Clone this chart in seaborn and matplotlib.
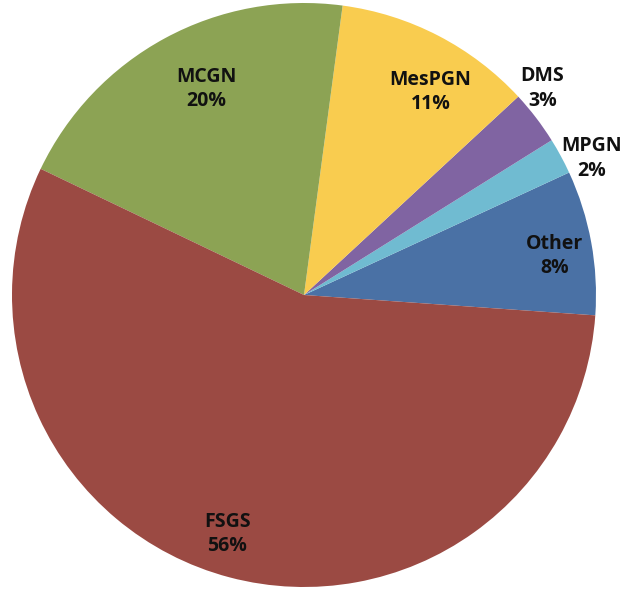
import matplotlib.pyplot as plt
import numpy as np
import seaborn as sns

####################################
# data
####################################
categories = ["Other", "MPGN", "DMS", "MesPGN", "MCGN", "FSGS"]
shares = [8, 2, 3, 11, 20, 56]

# label placement (distance from centre, angle nudge in degrees)
label_dist = [0.87, 1.09, 1.08, 0.82, 0.78, 0.86]
label_shift = [-1.5, -3.0, 3.5, -4.5, -3, -3]
colors = ["#4A71A5", "#70BBD1", "#8064A2", "#F9CC4F", "#8CA354", "#9B4A43"]

####################################
# plot
####################################
sns.set_theme(style="white")
plt.rcParams["font.family"] = ["Open Sans", "DejaVu Sans"]

fig = plt.figure(figsize=(6.3, 5.93), dpi=100)
ax = fig.add_axes([12 / 630, 6 / 593, 584 / 630, 584 / 593])

wedges, _ = ax.pie(
    shares,
    colors=colors,
    startangle=-4,
    counterclock=True,
    wedgeprops={"linewidth": 0},
)

for w, name, val, d, s in zip(wedges, categories, shares, label_dist, label_shift):
    mid = np.deg2rad((w.theta1 + w.theta2) / 2 + s)
    ax.text(
        d * np.cos(mid),
        d * np.sin(mid),
        f"{name}\n{val}%",
        ha="center",
        va="center",
        fontsize=14,
        fontweight="bold",
        color="#111111",
        linespacing=1.28,
    )

ax.set_xlim(-1, 1)
ax.set_ylim(-1, 1)
ax.set_aspect("auto")
ax.axis("off")

fig.savefig("out.png", dpi=100, facecolor="white")
